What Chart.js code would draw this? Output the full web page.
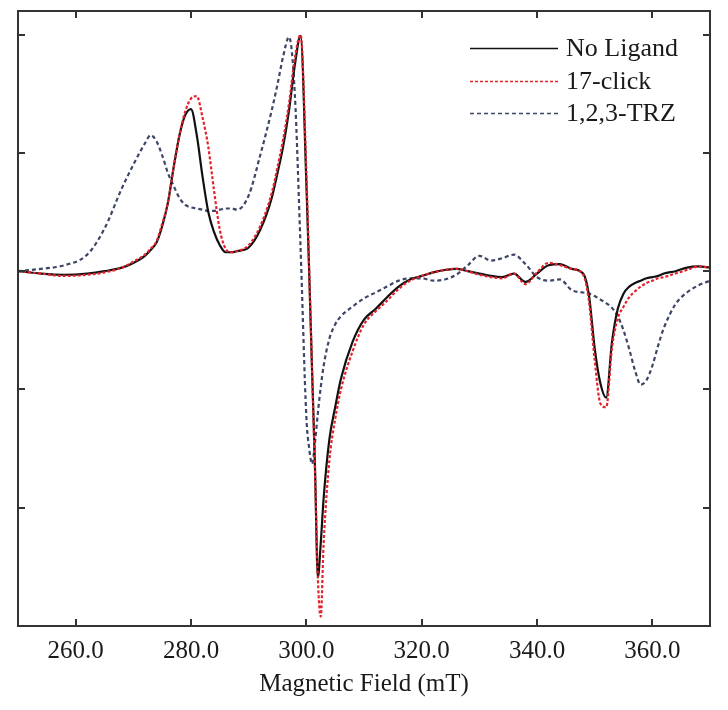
<!DOCTYPE html>
<html>
<head>
<meta charset="utf-8">
<script src="https://cdn.jsdelivr.net/npm/chart.js@4.4.1/dist/chart.umd.min.js"></script>
<style>
  html, body { margin: 0; padding: 0; background: #fff; }
  #wrap { width: 728px; height: 710px; }
</style>
</head>
<body>
<div id="wrap"><canvas id="eprChart" width="728" height="710"></canvas></div>
<script>
(function epr () {
    'use strict';

    // magnetic field (mT)
    var field = [
        250, 254, 258, 262, 265, 268, 270, 272, 273, 274, 275, 276, 277, 278, 279,
        280, 281, 282, 283, 284, 285, 286, 287, 288, 290, 292, 294, 295, 296, 297,
        298, 299, 300, 300.5, 301, 301.5, 302, 302.5, 303, 304, 305, 306, 308, 310,
        312, 314, 316, 318, 320, 322, 324, 326, 328, 330, 332, 334, 336, 338, 340,
        342, 344, 346, 348, 349, 350, 351, 352, 353, 354, 355, 356, 357, 358, 359,
        360, 361, 362, 364, 366, 368, 370
    ];

    var noLigand = [
        0.00, -0.02, -0.03, -0.02, 0.00, 0.03, 0.07, 0.13, 0.18, 0.24, 0.38, 0.58, 0.88, 1.15, 1.32,
        1.37, 1.15, 0.80, 0.50, 0.33, 0.22, 0.16, 0.16, 0.17, 0.20, 0.35, 0.62, 0.83, 1.06, 1.36,
        1.74, 1.99, 0.75, -0.02, -0.85, -1.65, -2.59, -2.30, -1.92, -1.42, -1.15, -0.91, -0.60, -0.41,
        -0.32, -0.22, -0.13, -0.07, -0.04, -0.01, 0.01, 0.02, 0.00, -0.02, -0.04, -0.05, -0.02, -0.09, -0.02,
        0.05, 0.06, 0.02, -0.02, -0.20, -0.65, -0.95, -1.07, -0.60, -0.32, -0.19, -0.13, -0.10, -0.08, -0.06,
        -0.05, -0.04, -0.02, 0.00, 0.03, 0.04, 0.03
    ];

    var click17 = [
        0.00, -0.02, -0.04, -0.03, -0.01, 0.03, 0.08, 0.14, 0.19, 0.25, 0.40, 0.58, 0.88, 1.15, 1.35,
        1.46, 1.48, 1.30, 1.05, 0.68, 0.35, 0.19, 0.16, 0.17, 0.22, 0.38, 0.66, 0.88, 1.12, 1.42,
        1.80, 2.00, 0.85, 0.00, -0.85, -1.70, -2.60, -2.92, -2.30, -1.60, -1.25, -1.00, -0.68, -0.45,
        -0.34, -0.25, -0.15, -0.08, -0.04, -0.01, 0.01, 0.02, 0.00, -0.03, -0.05, -0.06, -0.02, -0.11, -0.01,
        0.07, 0.05, 0.02, -0.03, -0.25, -0.75, -1.12, -1.15, -0.65, -0.40, -0.30, -0.22, -0.17, -0.13, -0.10,
        -0.08, -0.06, -0.05, -0.02, 0.01, 0.04, 0.03
    ];

    var trz123 = [
        0.00, 0.02, 0.05, 0.14, 0.36, 0.70, 0.90, 1.08, 1.15, 1.10, 0.98, 0.83, 0.72, 0.62, 0.56,
        0.54, 0.53, 0.52, 0.51, 0.51, 0.52, 0.53, 0.53, 0.52, 0.64, 0.98, 1.36, 1.58, 1.82, 1.98,
        1.50, 0.20, -1.23, -1.50, -1.63, -1.45, -1.20, -0.98, -0.80, -0.57, -0.45, -0.38, -0.30, -0.23,
        -0.18, -0.13, -0.08, -0.06, -0.06, -0.08, -0.07, -0.03, 0.05, 0.13, 0.09, 0.11, 0.14, 0.06, -0.05,
        -0.08, -0.07, -0.16, -0.18, -0.19, -0.21, -0.24, -0.27, -0.31, -0.38, -0.50, -0.66, -0.84, -0.96, -0.92,
        -0.80, -0.63, -0.48, -0.28, -0.18, -0.12, -0.08
    ];

    var seriesNames = ['No Ligand', '17-click', '1,2,3-TRZ'];
    var xTicks = [260, 280, 300, 320, 340, 360];
    var yTicks = [-2, -1, 0, 1, 2];

    function points(values) {
        return field.map(function (f, i) { return {x: f, y: values[i]}; });
    }

    var serif = '"Liberation Serif", "Times New Roman", serif';

    // inside tick marks, frame and legend drawn over the plot
    var framePlugin = {
        id: 'frame',
        afterDatasetsDraw: function (chart) {
            var ctx = chart.ctx;
            var a = chart.chartArea;
            var xs = chart.scales.x;
            var ys = chart.scales.y;
            var len = 7;
            ctx.save();
            ctx.strokeStyle = '#333';
            ctx.lineWidth = 2;
            ctx.setLineDash([]);
            ctx.strokeRect(a.left, a.top, a.right - a.left, a.bottom - a.top);
            ctx.beginPath();
            xTicks.forEach(function (v) {
                var px = Math.round(xs.getPixelForValue(v));
                ctx.moveTo(px, a.bottom); ctx.lineTo(px, a.bottom - len);
                ctx.moveTo(px, a.top); ctx.lineTo(px, a.top + len);
            });
            yTicks.forEach(function (v) {
                var py = Math.round(ys.getPixelForValue(v));
                ctx.moveTo(a.left, py); ctx.lineTo(a.left + len, py);
                ctx.moveTo(a.right, py); ctx.lineTo(a.right - len, py);
            });
            ctx.stroke();

            // legend
            var x0 = a.right - 240;
            var x1 = a.right - 152;
            var y0 = a.top + 37;
            var step = 32.5;
            ctx.font = '26px ' + serif;
            ctx.textBaseline = 'middle';
            ctx.fillStyle = '#1a1a1a';
            chart.data.datasets.forEach(function (ds, i) {
                var y = Math.round(y0 + i * step) + 0.5;
                ctx.beginPath();
                ctx.strokeStyle = ds.borderColor;
                ctx.lineWidth = 1.6;
                ctx.setLineDash(ds.borderDash || []);
                ctx.moveTo(x0, y);
                ctx.lineTo(x1, y);
                ctx.stroke();
                ctx.fillText(ds.label, x1 + 8, y + 1);
            });
            ctx.restore();
        }
    };

    var ctx = document.getElementById('eprChart').getContext('2d');

    new Chart(ctx, {
        type: 'line',
        data: {
            datasets: [{
                label: seriesNames[0],
                data: points(noLigand),
                borderColor: '#111111',
                borderWidth: 2.2,
                order: 1
            }, {
                label: seriesNames[1],
                data: points(click17),
                borderColor: '#e3222b',
                borderWidth: 2.2,
                borderDash: [3, 2],
                order: 0
            }, {
                label: seriesNames[2],
                data: points(trz123),
                borderColor: '#3d4666',
                borderWidth: 2.2,
                borderDash: [4, 3],
                order: 2
            }]
        },
        options: {
            responsive: false,
            animation: false,
            parsing: false,
            layout: {
                padding: {left: 18, right: 18, top: 11, bottom: 0}
            },
            elements: {
                point: {radius: 0},
                line: {cubicInterpolationMode: 'monotone', fill: false}
            },
            plugins: {
                legend: {display: false},
                tooltip: {enabled: false}
            },
            scales: {
                x: {
                    type: 'linear',
                    min: 250,
                    max: 370,
                    afterBuildTicks: function (scale) {
                        scale.ticks = xTicks.map(function (v) { return {value: v}; });
                    },
                    grid: {display: false, drawTicks: false},
                    border: {display: false},
                    ticks: {
                        padding: 10,
                        color: '#1a1a1a',
                        font: {family: serif, size: 25},
                        maxRotation: 0,
                        callback: function (v) { return Number(v).toFixed(1); }
                    },
                    title: {
                        display: true,
                        text: 'Magnetic Field (mT)',
                        color: '#1a1a1a',
                        font: {family: serif, size: 25},
                        padding: {top: -7, bottom: 11}
                    }
                },
                y: {
                    type: 'linear',
                    display: false,
                    min: -3,
                    max: 2.2
                }
            }
        },
        plugins: [framePlugin]
    });
}());
</script>
</body>
</html>
